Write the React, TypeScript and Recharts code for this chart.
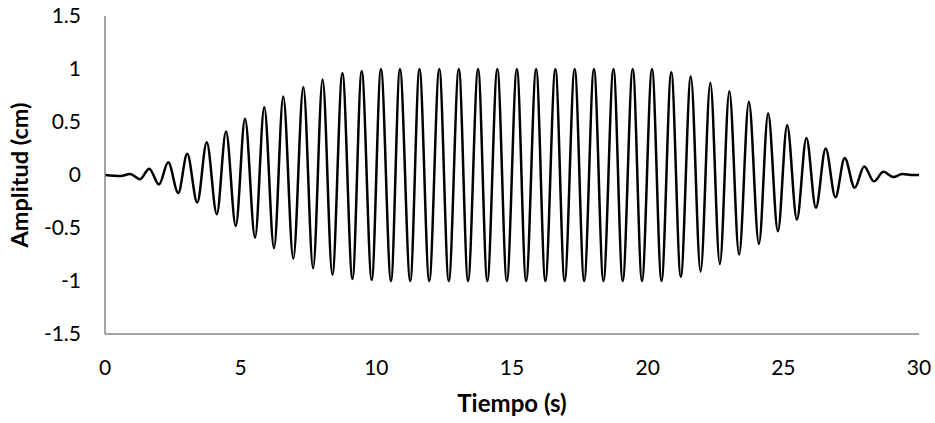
import { LineChart, Line, XAxis, YAxis } from "recharts";

// crestas y valles (s, cm)
const peakTimes = [0.92, 1.63, 2.33, 3.03, 3.75, 4.46, 5.16, 5.87, 6.57, 7.31, 8.02, 8.75, 9.46, 10.17,
  10.87, 11.59, 12.32, 13.04, 13.75, 14.46, 15.18, 15.89, 16.6, 17.31, 18.02, 18.74, 19.45, 20.16,
  20.87, 21.59, 22.31, 23.01, 23.73, 24.44, 25.14, 25.85, 26.56, 27.26, 27.98, 28.69, 29.38];
const peakValues = [0.01, 0.06, 0.12, 0.2, 0.31, 0.41, 0.53, 0.64, 0.74, 0.83, 0.9, 0.96, 0.98, 1,
  1, 1, 1, 1, 1, 1, 1, 1, 1, 1, 1, 1, 1, 1,
  0.97, 0.93, 0.87, 0.79, 0.69, 0.58, 0.47, 0.35, 0.25, 0.16, 0.08, 0.03, 0.01];

const troughTimes = [0.58, 1.29, 1.99, 2.7, 3.4, 4.12, 4.82, 5.53, 6.23, 6.94, 7.67, 8.38, 9.12, 9.83,
  10.54, 11.25, 11.95, 12.67, 13.38, 14.09, 14.81, 15.52, 16.23, 16.94, 17.66, 18.37, 19.08, 19.79, 20.51,
  21.22, 21.95, 22.66, 23.37, 24.1, 24.8, 25.5, 26.2, 26.92, 27.63, 28.34, 29.06, 29.78];
const troughValues = [-0.01, -0.04, -0.09, -0.17, -0.26, -0.37, -0.48, -0.59, -0.69, -0.79, -0.88, -0.94, -0.98, -0.99,
  -1, -1, -1, -1, -1, -1, -1, -1, -1, -1, -1, -1, -1, -1, -1,
  -0.96, -0.91, -0.84, -0.75, -0.65, -0.53, -0.42, -0.31, -0.21, -0.12, -0.06, -0.02, 0];

const edgeTimes = [0, 30];
const edgeValues = [0, 0];

const xTicks = [0, 5, 10, 15, 20, 25, 30];
const yTicks = [-1.5, -1, -0.5, 0, 0.5, 1, 1.5];

const data = [
  ...edgeTimes.map((t, i) => ({ t, y: edgeValues[i] })),
  ...peakTimes.map((t, i) => ({ t, y: peakValues[i] })),
  ...troughTimes.map((t, i) => ({ t, y: troughValues[i] })),
].sort((a, b) => a.t - b.t);

const font = "Lato, 'Open Sans', sans-serif";
const axisGray = "#868686";

export default function App() {
  return (
    <div style={{ position: "absolute", left: 0, top: 0, background: "#fff" }}>
      <LineChart width={935} height={423} data={data} margin={{ top: 16, right: 16, left: 0, bottom: 0 }}>
        <XAxis
          dataKey="t"
          type="number"
          domain={[0, 30]}
          ticks={xTicks}
          height={89}
          tickLine={false}
          tickSize={0}
          tickMargin={26}
          stroke={axisGray}
          strokeWidth={1.5}
          tick={{ fill: "#000", fontSize: 21, fontFamily: font }}
          label={{ value: "Tiempo (s)", position: "insideBottom", offset: 11,
            style: { fill: "#000", fontSize: 24, fontWeight: 700, fontFamily: font } }}
        />
        <YAxis
          type="number"
          domain={[-1.5, 1.5]}
          ticks={yTicks}
          width={105}
          tickLine={false}
          tickSize={0}
          tickMargin={24}
          stroke={axisGray}
          strokeWidth={1.5}
          tick={{ fill: "#000", fontSize: 21, fontFamily: font }}
          label={{ value: "Amplitud (cm)", angle: -90, position: "insideLeft", offset: 20,
            style: { textAnchor: "middle", fill: "#000", fontSize: 23.5, fontWeight: 700, fontFamily: font } }}
        />
        <Line type="monotone" dataKey="y" stroke="#000" strokeWidth={2.5} dot={false} isAnimationActive={false} />
      </LineChart>
    </div>
  );
}
